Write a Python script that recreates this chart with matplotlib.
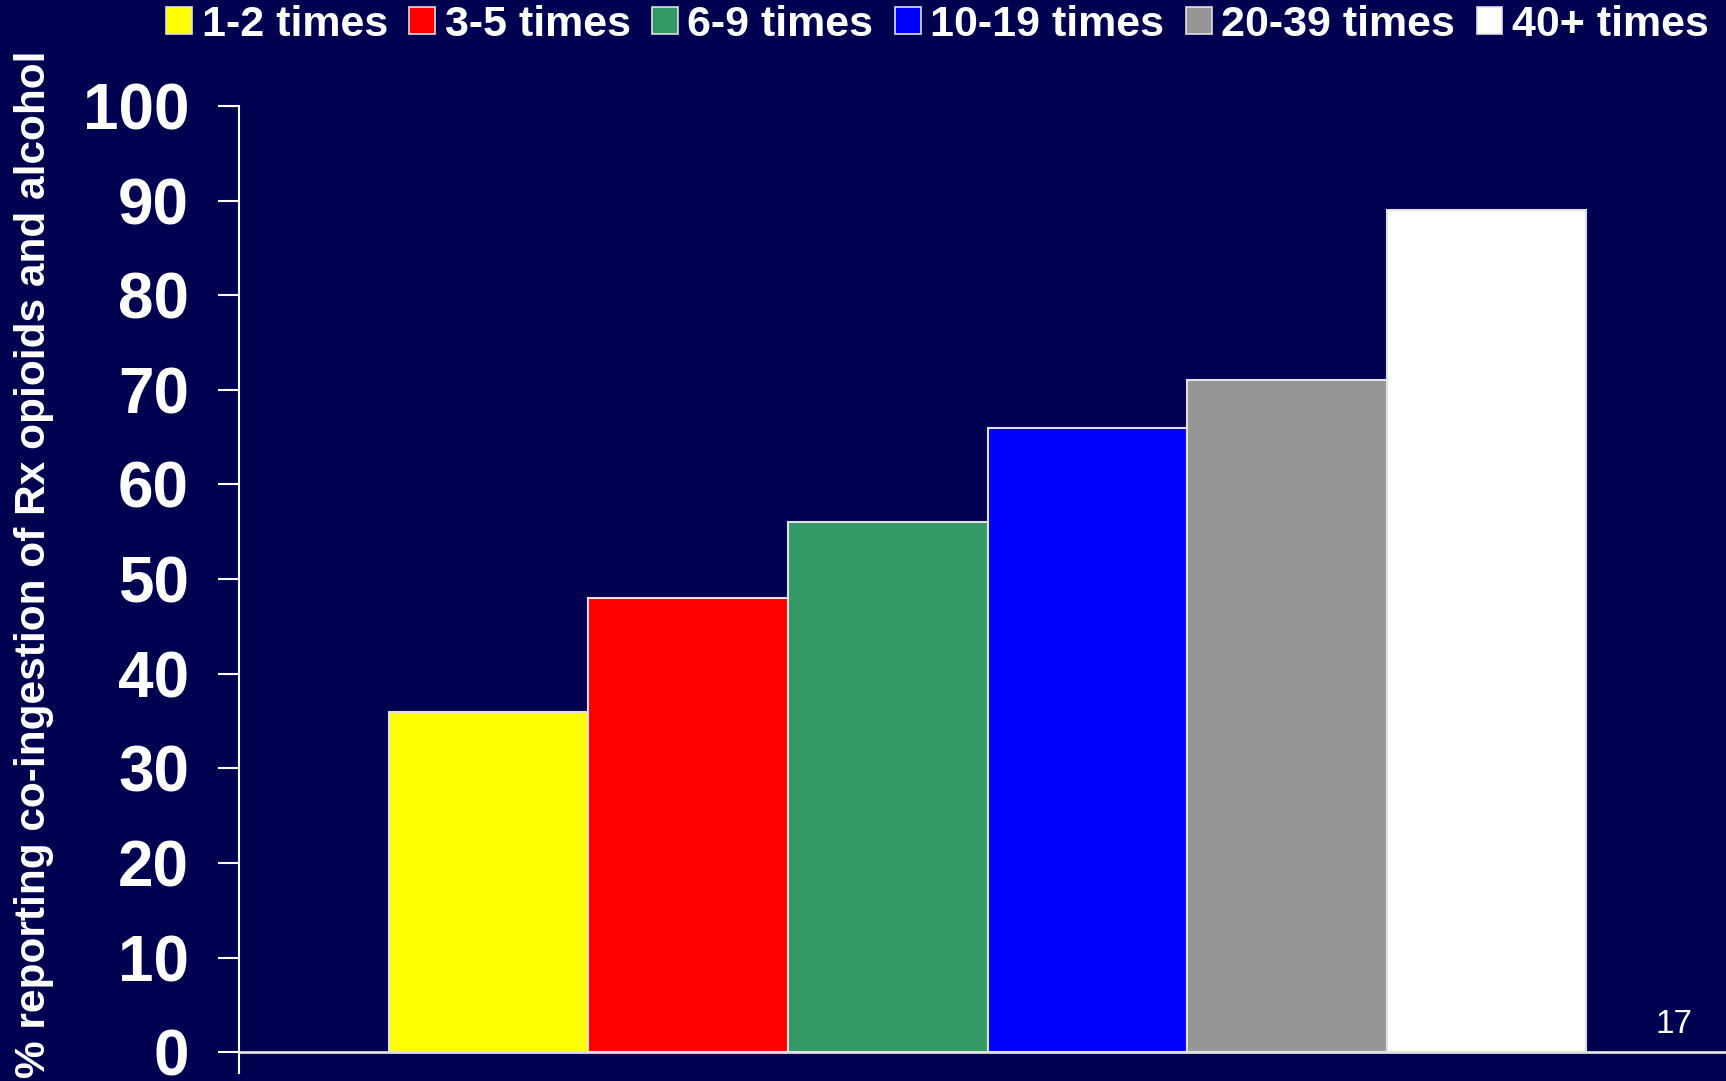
#!/usr/bin/env python3

import matplotlib
matplotlib.use("Agg")
import matplotlib.pyplot as plt
from matplotlib.patches import Patch

categories = ["1-2 times", "3-5 times", "6-9 times", "10-19 times", "20-39 times", "40+ times"]
values = [36, 48, 56, 66, 71, 89]
colors = ["#ffff00", "#ff0000", "#339966", "#0000ff", "#969696", "#ffffff"]
yticks = [0, 10, 20, 30, 40, 50, 60, 70, 80, 90, 100]
ylabel = "% reporting co-ingestion of Rx opioids and alcohol"
slide_no = "17"

bg = "#000050"
plt.rcParams["font.family"] = ["Liberation Sans", "DejaVu Sans"]

fig = plt.figure(figsize=(17.26, 10.81), dpi=100, facecolor=bg)
ax = fig.add_axes([0.1385, 0.0074, 0.8615, 0.8946], facecolor=bg)

positions = list(range(1, len(values) + 1))
ax.bar(positions, values, width=1.0, color=colors, edgecolor="#e0e0e0",
       linewidth=1.5, zorder=2)
ax.axhline(0, color="#e0e0e0", linewidth=2, zorder=3)

ax.set_xlim(-0.25, 7.2)
ax.set_ylim(-2.2, 100)
ax.set_yticks(yticks)
ax.set_xticks([])
ax.tick_params(axis="y", colors="white", length=15, width=1.5, pad=21,
               labelsize=46)
for lbl in ax.get_yticklabels():
    lbl.set_fontweight("bold")

for side in ["top", "right", "bottom"]:
    ax.spines[side].set_visible(False)
ax.spines["left"].set_color("white")
ax.spines["left"].set_linewidth(1.5)
ax.spines["left"].set_bounds(-2.2, 100)

# axis title runs off the bottom of the slide, as in the original
fig.text(0.0195, 0.478, ylabel, rotation=90, color="white", fontsize=30.5,
         fontweight="bold", ha="center", va="center")
fig.text(0.970, 0.044, slide_no, color="white", fontsize=24,
         ha="center", va="baseline")

handles = [Patch(facecolor=c, edgecolor="#e0e0e0", linewidth=1.2) for c in colors]
leg = fig.legend(handles, categories, ncol=6, loc="center right",
                 bbox_to_anchor=(0.990, 0.977), frameon=False,
                 handlelength=0.6, handleheight=0.6, handletextpad=0.22,
                 columnspacing=0.5, borderaxespad=0, borderpad=0,
                 prop={"size": 31, "weight": "bold"})
for t in leg.get_texts():
    t.set_color("white")

fig.savefig("out.png", dpi=100, facecolor=bg)
